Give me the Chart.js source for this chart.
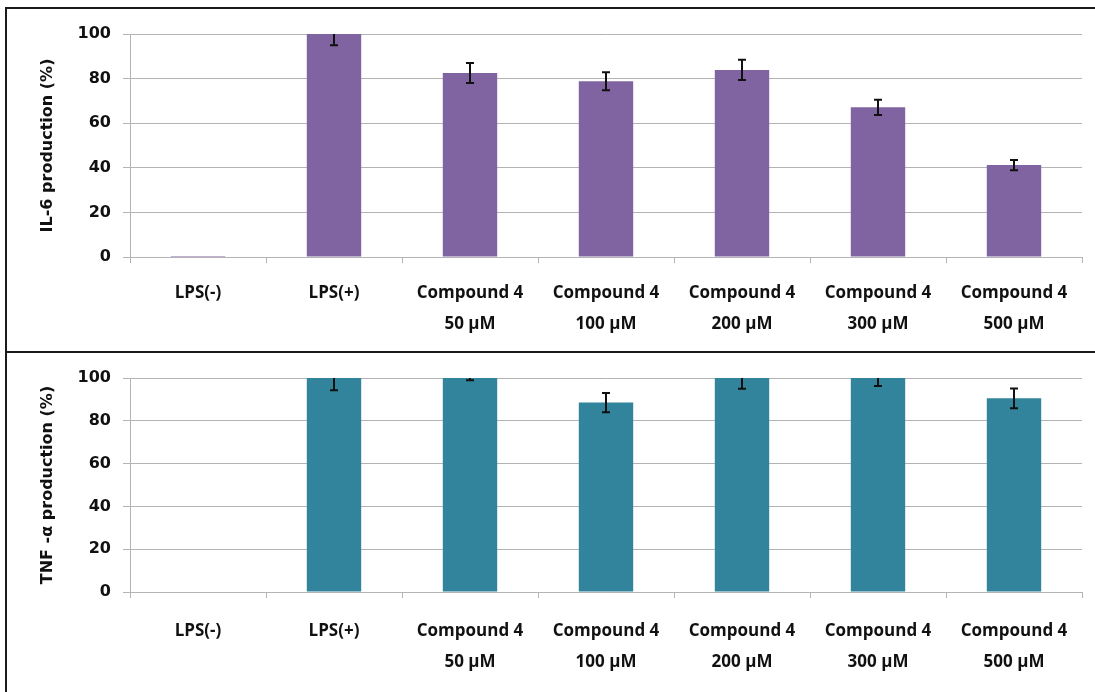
<!DOCTYPE html>
<html>
<head>
<meta charset="utf-8">
<script src="https://cdn.jsdelivr.net/npm/chart.js@4"></script>
<style>
  body { margin: 0; background: #fff; }
  .wrap { position: relative; width: 1095px; height: 692px; overflow: hidden; }
  .panel { position: absolute; left: 0; width: 1095px; }
  .frame { position: absolute; left: 5px; right: 0; border-left: 2px solid #1b1b1b; border-top: 2px solid #1b1b1b; }
</style>
</head>
<body>
<div class="wrap">
  <div class="frame" style="top:7px; height:345px;"></div>
  <div class="frame" style="top:351px; height:345px;"></div>
  <div class="panel" style="top:0; height:352px;"><canvas id="il6Chart" width="1095" height="352"></canvas></div>
  <div class="panel" style="top:352px; height:340px;"><canvas id="tnfChart" width="1095" height="340"></canvas></div>
</div>
<script>
// categories
const groups = [
    'LPS(-)',
    'LPS(+)',
    ['Compound 4', '50 µM'],
    ['Compound 4', '100 µM'],
    ['Compound 4', '200 µM'],
    ['Compound 4', '300 µM'],
    ['Compound 4', '500 µM']
];

// IL-6 production (%) and error
const il6Values = [0.5, 100, 82.5, 78.8, 83.9, 67.1, 41.2];
const il6Err    = [0, 5, 4.5, 4, 4.5, 3.4, 2.3];

// TNF-α production (%) and error
const tnfValues = [0, 100, 100, 88.5, 100, 100, 90.5];
const tnfErr    = [0, 5.7, 1, 4.5, 5, 3.7, 4.6];

const yTicks = [0, 20, 40, 60, 80, 100];

const gridColor = '#b4b4b4';
const textColor = '#111';

// draws the error bars from the dataset's "errors" array
const errorBars = {
    id: 'errorBars',
    afterDatasetsDraw(chart) {
        const ctx = chart.ctx;
        const yScale = chart.scales.y;
        const area = chart.chartArea;
        chart.data.datasets.forEach((ds, di) => {
            const meta = chart.getDatasetMeta(di);
            meta.data.forEach((bar, i) => {
                const err = ds.errors[i];
                if (!err) return;
                const v = ds.data[i];
                const yHi = yScale.getPixelForValue(v + err);
                const yLo = yScale.getPixelForValue(v - err);
                const top = Math.max(yHi, area.top);
                ctx.save();
                ctx.strokeStyle = '#111';
                ctx.lineWidth = 2;
                ctx.beginPath();
                ctx.moveTo(bar.x, top);
                ctx.lineTo(bar.x, yLo);
                ctx.moveTo(bar.x - 4, yLo);
                ctx.lineTo(bar.x + 4, yLo);
                if (yHi >= area.top) {
                    ctx.moveTo(bar.x - 4, yHi);
                    ctx.lineTo(bar.x + 4, yHi);
                }
                ctx.stroke();
                ctx.restore();
            });
        });
    }
};

function makeChart(id, values, errors, color, title, pad) {
    const ctx = document.getElementById(id).getContext('2d');
    return new Chart(ctx, {
        type: 'bar',
        data: {
            labels: groups,
            datasets: [{
                data: values,
                errors: errors,
                backgroundColor: color,
                borderWidth: 0,
                barPercentage: 0.4,
                categoryPercentage: 1.0
            }]
        },
        options: {
            responsive: false,
            devicePixelRatio: 1,
            animation: false,
            layout: { padding: { left: 34, top: pad.top, right: 13, bottom: 0 } },
            plugins: {
                legend: { display: false },
                tooltip: { enabled: false }
            },
            scales: {
                x: {
                    afterFit(scale) { scale.height = pad.xHeight; },
                    grid: {
                        offset: true,
                        drawOnChartArea: false,
                        drawTicks: true,
                        tickLength: 6,
                        color: gridColor
                    },
                    border: { color: gridColor },
                    ticks: {
                        color: textColor,
                        padding: pad.labelPad,
                        maxRotation: 0,
                        autoSkip: false,
                        font: { family: 'Open Sans', weight: 'bold', size: 17, lineHeight: 1.8 }
                    }
                },
                y: {
                    min: 0,
                    max: 100,
                    afterFit(scale) { scale.width = 96; },
                    afterBuildTicks(scale) { scale.ticks = yTicks.map(v => ({ value: v })); },
                    grid: { color: gridColor, tickLength: 7 },
                    border: { color: gridColor },
                    ticks: {
                        color: textColor,
                        padding: 12,
                        font: { family: 'DejaVu Sans', weight: 'bold', size: 16 }
                    },
                    title: {
                        display: true,
                        text: title,
                        color: textColor,
                        padding: { top: 4, bottom: 0 },
                        font: { family: 'DejaVu Sans', weight: 'bold', size: 16 }
                    }
                }
            }
        },
        plugins: [errorBars]
    });
}

makeChart('il6Chart', il6Values, il6Err, '#8064a2', 'IL-6 production (%)',
    { top: 34, xHeight: 95, labelPad: 15 });
makeChart('tnfChart', tnfValues, tnfErr, '#31849b', 'TNF -α production (%)',
    { top: 26, xHeight: 100, labelPad: 18 });
</script>
</body>
</html>
